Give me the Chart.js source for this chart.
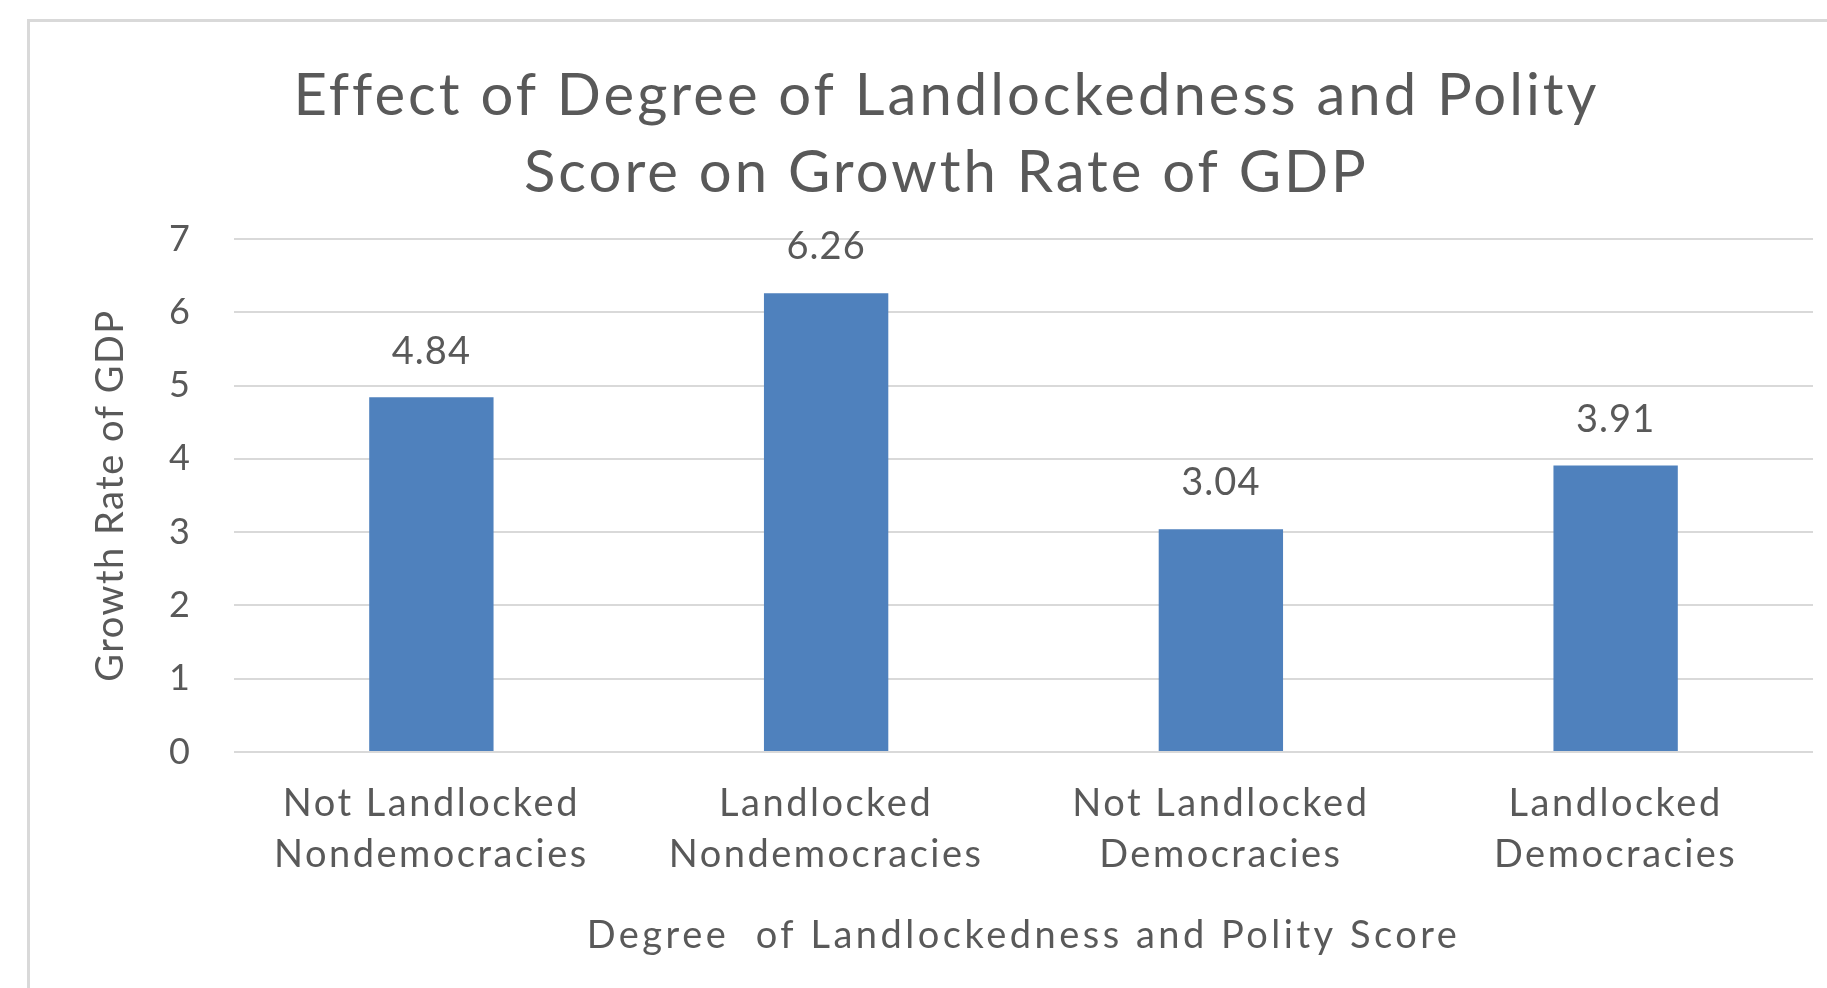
<!DOCTYPE html>
<html>
<head>
<meta charset="utf-8">
<script src="https://cdn.jsdelivr.net/npm/chart.js@4.4.1/dist/chart.umd.min.js"></script>
<style>
  html, body { margin: 0; padding: 0; background: #fff; overflow: hidden; }
  #frame { position: absolute; left: 27px; top: 19px; width: 1900px; height: 1100px; border: 3px solid #d9d9d9; box-sizing: border-box; }
  #wrap { position: absolute; left: 0; top: 0; width: 1827px; height: 988px; }
</style>
</head>
<body>
<div id="frame"></div>
<div id="wrap"><canvas id="chart"></canvas></div>
<script>
// --- chart data ---
const categories = [
    ["Not Landlocked", "Nondemocracies"],
    ["Landlocked", "Nondemocracies"],
    ["Not Landlocked", "Democracies"],
    ["Landlocked", "Democracies"]
];
const growthRates = [4.84, 6.26, 3.04, 3.91];
const yTicks = [0, 1, 2, 3, 4, 5, 6, 7];

const chartTitle = ["Effect of Degree of Landlockedness and Polity", "Score on Growth Rate of GDP"];
const xTitle = "Degree  of Landlockedness and Polity Score";
const yTitle = "Growth Rate of GDP";

const TEXT = "#595959";
const FONT = "Lato, 'Open Sans', sans-serif";

// wraps a draw method so its text is drawn with extra letter spacing
function spaced(fn, spacing) {
    return function (...args) {
        const ctx = this.ctx;
        const prev = ctx.letterSpacing;
        ctx.letterSpacing = spacing;
        fn.apply(this, args);
        ctx.letterSpacing = prev;
    };
}

const letterSpacing = {
    id: "letterSpacing",
    afterLayout(chart) {
        if (chart._spaced) return;
        chart._spaced = true;
        const x = chart.scales.x, y = chart.scales.y;
        x.drawLabels = spaced(x.drawLabels, "2.5px");
        x.drawTitle = spaced(x.drawTitle, "3.5px");
        y.drawTitle = spaced(y.drawTitle, "1.5px");
        if (chart.titleBlock) chart.titleBlock.draw = spaced(chart.titleBlock.draw, "3px");
    }
};

// value labels above each bar
const barLabels = {
    id: "barLabels",
    afterDatasetsDraw(chart) {
        const ctx = chart.ctx;
        const meta = chart.getDatasetMeta(0);
        ctx.save();
        ctx.font = "38px " + FONT;
        ctx.letterSpacing = "1px";
        ctx.fillStyle = TEXT;
        ctx.textAlign = "center";
        ctx.textBaseline = "middle";
        meta.data.forEach((bar, i) => {
            ctx.fillText(growthRates[i].toFixed(2), bar.x, bar.y - 46);
        });
        ctx.restore();
    }
};

new Chart(document.getElementById("chart"), {
    type: "bar",
    data: {
        labels: categories,
        datasets: [{
            data: growthRates,
            backgroundColor: "#4f81bd",
            borderWidth: 0,
            barPercentage: 0.315,
            categoryPercentage: 1
        }]
    },
    options: {
        responsive: true,
        maintainAspectRatio: false,
        animation: false,
        devicePixelRatio: 1,
        layout: { padding: { left: 80, right: 14, top: 0, bottom: 0 } },
        plugins: {
            legend: { display: false },
            tooltip: { enabled: false },
            title: {
                display: true,
                text: chartTitle,
                color: TEXT,
                font: { family: FONT, size: 58, weight: "normal", lineHeight: 77 / 58 },
                padding: { top: 58, bottom: 27 }
            }
        },
        scales: {
            x: {
                grid: { display: false },
                border: { display: false },
                ticks: {
                    color: TEXT,
                    font: { family: FONT, size: 38, lineHeight: 51 / 38 },
                    padding: 18,
                    maxRotation: 0,
                    autoSkip: false
                },
                title: {
                    display: true,
                    text: xTitle,
                    color: TEXT,
                    font: { family: FONT, size: 38, lineHeight: 1.2 },
                    padding: { top: 0, bottom: 29 }
                },
                afterFit(scale) { scale.height = 236; }
            },
            y: {
                min: 0,
                max: 7,
                afterBuildTicks(scale) { scale.ticks = yTicks.map(v => ({ value: v })); },
                grid: { color: "#d9d9d9", lineWidth: 2, drawTicks: false },
                border: { display: false },
                ticks: {
                    color: TEXT,
                    font: { family: FONT, size: 36 },
                    padding: 44
                },
                title: {
                    display: true,
                    text: yTitle,
                    color: TEXT,
                    font: { family: FONT, size: 38, lineHeight: 1.2 },
                    padding: { top: 8, bottom: 0 }
                },
                afterFit(scale) { scale.width = 154; }
            }
        }
    },
    plugins: [letterSpacing, barLabels]
});
</script>
</body>
</html>
